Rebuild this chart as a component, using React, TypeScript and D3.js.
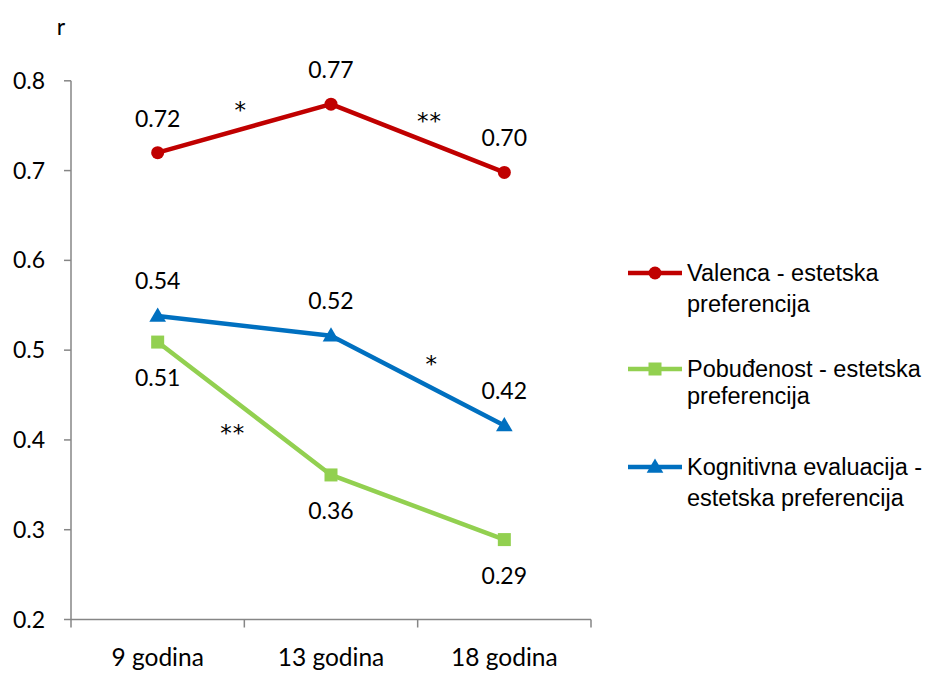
import React from "react";
import * as d3 from "d3";

const categories = ["9 godina", "13 godina", "18 godina"];
const seriesNames = [
  ["Valenca - estetska", "preferencija"],
  ["Pobuđenost - estetska", "preferencija"],
  ["Kognitivna evaluacija -", "estetska preferencija"],
];
const valenca = [0.72, 0.774, 0.698];
const pobudjenost = [0.509, 0.361, 0.289];
const kognitivna = [0.538, 0.516, 0.416];
const valencaLabels = ["0.72", "0.77", "0.70"];
const pobudjenostLabels = ["0.51", "0.36", "0.29"];
const kognitivnaLabels = ["0.54", "0.52", "0.42"];
const yTicks = [0.2, 0.3, 0.4, 0.5, 0.6, 0.7, 0.8];
// significance marks: [series index, segment index, text, side (-1 above, 1 below)]
const sigMarks: [number, number, string, number][] = [
  [0, 0, "*", -1],
  [0, 1, "**", -1],
  [2, 1, "*", -1],
  [1, 0, "**", 1],
];

const W = 931, H = 675;
const x0 = 71, x1 = 591, yTop = 80.8, yBot = 619.5;

export default function App() {
  const x = d3.scaleBand<string>().domain(categories).range([x0, x1]);
  const y = d3.scaleLinear().domain([0.2, 0.8]).range([yBot, yTop]);
  const cx = (i: number) => (x(categories[i]) as number) + x.bandwidth() / 2;
  const line = d3.line<number>().x((_, i) => cx(i)).y((d) => y(d));
  const colors = ["#C00000", "#92D050", "#0070C0"];
  const series = [valenca, pobudjenost, kognitivna];
  const labels = [valencaLabels, pobudjenostLabels, kognitivnaLabels];
  const labelOffset = [-34, 36, -35];
  const numFont = "Lato, 'Open Sans', sans-serif";
  const legFont = "'Liberation Sans', Arial, sans-serif";

  const marker = (si: number, px: number, py: number, key: string) => {
    if (si === 0) return <circle key={key} cx={px} cy={py} r={6.5} fill={colors[0]} />;
    if (si === 1) return <rect key={key} x={px - 6.5} y={py - 6.5} width={13} height={13} fill={colors[1]} />;
    const t = d3.symbol().type(d3.symbolTriangle).size(120)();
    return <path key={key} d={t as string} transform={`translate(${px},${py + 1})`} fill={colors[2]} />;
  };

  const legY = [[273, 304], [369, 396], [467, 498]];

  return (
    <svg width={W} height={H} style={{ position: "absolute", left: 0, top: 0, background: "#fff" }}>
      <text x={61} y={35} fontFamily={numFont} fontSize={23} textAnchor="middle">r</text>
      {/* axes */}
      <line x1={x0} x2={x0} y1={yTop} y2={yBot} stroke="#868686" strokeWidth={1.5} />
      <line x1={x0} x2={x1} y1={yBot} y2={yBot} stroke="#868686" strokeWidth={1.5} />
      {yTicks.map((t) => (
        <g key={t}>
          <line x1={x0 - 7} x2={x0} y1={y(t)} y2={y(t)} stroke="#868686" strokeWidth={1.5} />
          <text x={45} y={y(t) + 8} fontFamily={numFont} fontSize={23} textAnchor="end">{t.toFixed(1)}</text>
        </g>
      ))}
      {[0, 1, 2, 3].map((i) => {
        const xx = x0 + i * x.bandwidth();
        return <line key={i} x1={xx} x2={xx} y1={yBot} y2={yBot + 8} stroke="#868686" strokeWidth={1.5} />;
      })}
      {categories.map((c, i) => (
        <text key={c} x={cx(i)} y={666} fontFamily={numFont} fontSize={24.5} textAnchor="middle">{c}</text>
      ))}
      {/* lines */}
      {series.map((s, si) => (
        <path key={si} d={line(s) as string} fill="none" stroke={colors[si]} strokeWidth={4.5} strokeLinejoin="round" />
      ))}
      {series.map((s, si) => s.map((v, i) => marker(si, cx(i), y(v), `m${si}-${i}`)))}
      {series.map((s, si) => s.map((v, i) => (
        <text key={`l${si}-${i}`} x={cx(i)} y={y(v) + labelOffset[si] + 8} fontFamily={numFont} fontSize={23} textAnchor="middle">{labels[si][i]}</text>
      )))}
      {sigMarks.map(([si, seg, txt, dir], k) => {
        const s = series[si];
        const ax = cx(seg), bx = cx(seg + 1), ay = y(s[seg]), by = y(s[seg + 1]);
        const dx = bx - ax, dy = by - ay, len = Math.hypot(dx, dy);
        let nx = dy / len, ny = -dx / len;
        if (dir > 0) { nx = -nx; ny = -ny; }
        const mx = (ax + bx) / 2 + nx * 24 + 3;
        const my = (ay + by) / 2 + ny * 24;
        return (
          <text key={k} x={mx} y={my + 13} fontFamily="'DejaVu Sans', sans-serif" fontSize={23} textAnchor="middle" letterSpacing={1}>{txt}</text>
        );
      })}
      {/* legend */}
      {seriesNames.map((nm, si) => (
        <g key={si}>
          <line x1={628} x2={682} y1={legY[si][0]} y2={legY[si][0]} stroke={colors[si]} strokeWidth={4.5} />
          {marker(si, 655, legY[si][0], `lg${si}`)}
          <text x={687} y={legY[si][0] + 8} fontFamily={legFont} fontSize={23.5}>{nm[0]}</text>
          <text x={687} y={legY[si][1] + 8} fontFamily={legFont} fontSize={23.5}>{nm[1]}</text>
        </g>
      ))}
    </svg>
  );
}
